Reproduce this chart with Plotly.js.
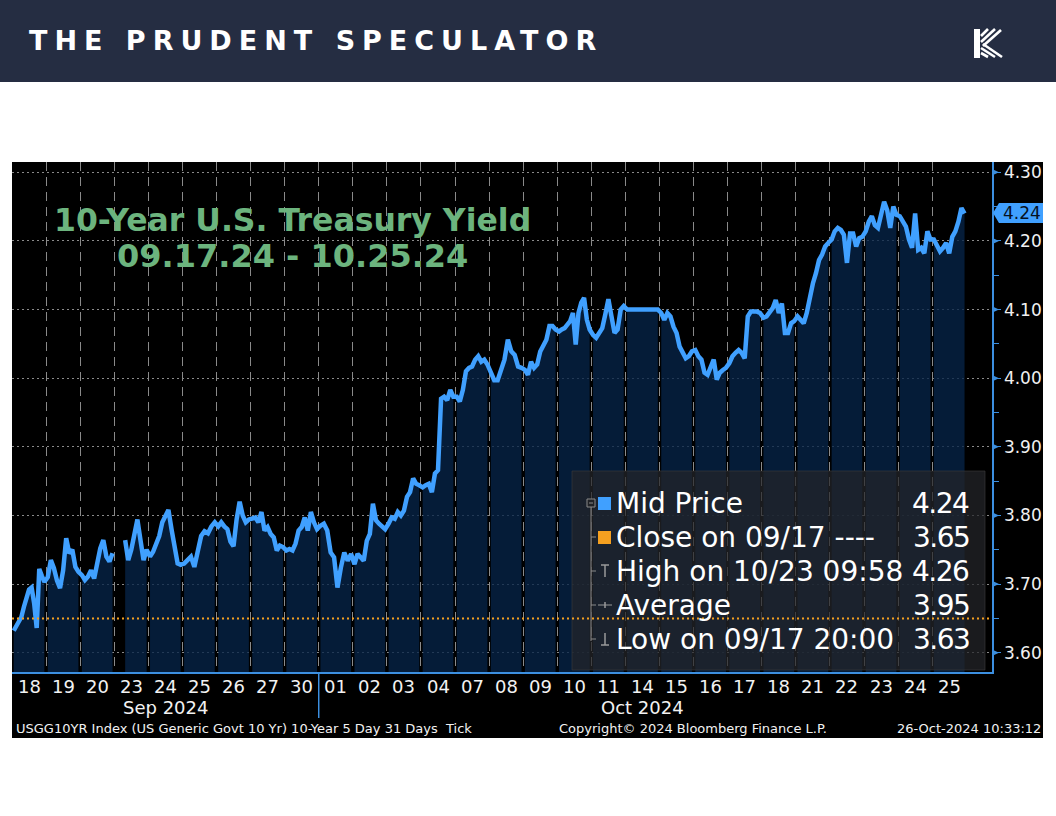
<!DOCTYPE html>
<html><head><meta charset="utf-8">
<script src="https://cdn.plot.ly/plotly-3.0.1.min.js"></script>
<style>html,body{margin:0;padding:0;background:#fff}#chart{width:1056px;height:816px}</style>
</head><body><div id="chart"></div>
<script>
// ---------- DATA ----------
const dayLabels = ['18','19','20','23','24','25','26','27','30','01','02','03','04','07','08','09','10','11','14','15','16','17','18','21','22','23','24','25'];
const monthLabels = ['Sep 2024', 'Oct 2024'];
const monthDayCounts = [9, 19];

const sep18 = [3.632, 3.638, 3.645, 3.652, 3.667, 3.683, 3.692, 3.695, 3.672, 3.636, 3.722, 3.712, 3.703];
const sep19 = [3.710, 3.735, 3.723, 3.705, 3.694, 3.720, 3.767, 3.745, 3.750, 3.725, 3.718];
const sep20 = [3.713, 3.706, 3.711, 3.720, 3.708, 3.730, 3.752, 3.764, 3.740, 3.733, 3.745];
const sep23 = [null, null, null, 3.764, 3.735, 3.750, 3.774, 3.794, 3.764, 3.735, 3.750];
const sep24 = [3.740, 3.747, 3.760, 3.770, 3.790, 3.800, 3.808, 3.780, 3.752, 3.730, 3.728];
const sep25 = [3.730, 3.735, 3.740, 3.725, 3.750, 3.770, 3.777, 3.774, 3.784, 3.790];
const sep26 = [3.784, 3.790, 3.784, 3.780, 3.762, 3.755, 3.794, 3.820, 3.800, 3.790, 3.794];
const sep27 = [3.795, 3.797, 3.790, 3.805, 3.778, 3.783, 3.773, 3.768, 3.749, 3.756, 3.754];
const sep30 = [3.749, 3.751, 3.749, 3.759, 3.778, 3.783, 3.797, 3.778, 3.805, 3.790, 3.780];
const oct01 = [3.785, 3.788, 3.778, 3.746, 3.739, 3.695, 3.724, 3.746, 3.734, 3.744];
const oct02 = [3.729, 3.744, 3.739, 3.734, 3.763, 3.773, 3.817, 3.793, 3.788, 3.783, 3.780];
const oct03 = [3.788, 3.797, 3.795, 3.805, 3.800, 3.807, 3.827, 3.834, 3.854, 3.846, 3.844];
const oct04 = [3.841, 3.844, 3.846, 3.834, 3.861, 3.866, 3.970, 3.973, 3.968, 3.983, 3.973];
const oct07 = [3.973, 3.966, 3.983, 4.010, 4.015, 4.017, 4.027, 4.032, 4.024, 4.027, 4.020];
const oct08 = [4.007, 3.997, 3.997, 4.012, 4.027, 4.056, 4.039, 4.034, 4.017, 4.015];
const oct09 = [4.012, 4.005, 4.024, 4.015, 4.020, 4.039, 4.049, 4.056, 4.076, 4.076, 4.071];
const oct10 = [4.068, 4.071, 4.073, 4.078, 4.083, 4.095, 4.049, 4.095, 4.110, 4.117, 4.085, 4.071];
const oct11 = [4.063, 4.059, 4.066, 4.073, 4.093, 4.115, 4.090, 4.066, 4.071, 4.100, 4.105];
const oct14 = [4.100, 4.100, 4.100];
const oct15 = [4.095, 4.085, 4.095, 4.090, 4.075, 4.066, 4.046, 4.039, 4.029, 4.032, 4.039];
const oct16 = [4.041, 4.032, 4.027, 4.008, 4.005, 4.017, 4.027, 3.998, 4.008, 4.012, 4.015];
const oct17 = [4.022, 4.032, 4.037, 4.041, 4.037, 4.029, 4.090, 4.097, 4.097, 4.097, 4.095];
const oct18 = [4.088, 4.090, 4.095, 4.102, 4.114, 4.095, 4.109, 4.066, 4.066, 4.080, 4.083];
const oct21 = [4.090, 4.085, 4.080, 4.095, 4.119, 4.138, 4.153, 4.172, 4.180, 4.192, 4.197];
const oct22 = [4.202, 4.214, 4.219, 4.216, 4.209, 4.168, 4.211, 4.211, 4.192, 4.204, 4.206];
const oct23 = [4.214, 4.228, 4.236, 4.223, 4.219, 4.238, 4.257, 4.245, 4.219, 4.250, 4.238];
const oct24 = [4.236, 4.228, 4.221, 4.202, 4.190, 4.240, 4.187, 4.190, 4.182, 4.214, 4.202];
const oct25 = [4.202, 4.194, 4.185, 4.190, 4.197, 4.182, 4.206, 4.214, 4.228, 4.248, 4.240];

const dayValues = [sep18, sep19, sep20, sep23, sep24, sep25, sep26, sep27, sep30,
  oct01, oct02, oct03, oct04, oct07, oct08, oct09, oct10, oct11, oct14, oct15,
  oct16, oct17, oct18, oct21, oct22, oct23, oct24, oct25];

const yTickVals = [3.60, 3.70, 3.80, 3.90, 4.00, 4.10, 4.20, 4.30];
const closeSep17 = 3.65;
const lastPrice = '4.24';
const lastPriceValue = 4.24;
const legendNames = ['Mid Price', 'Close on 09/17 ----', 'High on 10/23 09:58', 'Average', 'Low on 09/17 20:00'];
const legendValues = ['4.24', '3.65', '4.26', '3.95', '3.63'];
const titleLine1 = '10-Year U.S. Treasury Yield';
const titleLine2 = '09.17.24 - 10.25.24';
const headerText = 'THE PRUDENT SPECULATOR';
const footerLeft = 'USGG10YR Index (US Generic Govt 10 Yr) 10-Year 5 Day 31 Days  Tick';
const footerMid = 'Copyright\u00A9 2024 Bloomberg Finance L.P.';
const footerRight = '26-Oct-2024 10:33:12';

// ---------- GEOMETRY ----------
const L = 12, R = 992, T = 162, B = 672;
const px = X => (X - L) / (R - L);
const py = Y => (B - Y) / (B - T);
const dayW = 34.08;
const xMax = (R - L) / dayW;
const yMin = 3.60 - (B - 652.7) / 686.3;
const yMax = 4.30 + (172.3 - T) / 686.3;

const FONT = 'DejaVu Sans';
const BLUE = '#40a0ff';
const AXBLUE = '#3c8fe0';

// ---------- TRACES ----------
const traces = [];
const lx = [], ly = [];
dayValues.forEach((vals, i) => {
  const n = vals.length;
  const dx = [];
  vals.forEach((v, j) => {
    const x = i + 0.05 + 0.9 * (n > 1 ? j / (n - 1) : 0.5);
    dx.push(x);
    lx.push(x); ly.push(v);
  });
  traces.push({
    type: 'scatter', x: dx, y: vals, mode: 'none', fill: 'tozeroy',
    fillcolor: 'rgba(6,36,72,0.78)', connectgaps: false, hoverinfo: 'skip', showlegend: false
  });
});
traces.push({
  type: 'scatter', x: lx, y: ly, mode: 'lines', connectgaps: false,
  line: {color: BLUE, width: 4.5}, hoverinfo: 'skip', showlegend: false
});

// ---------- SHAPES ----------
const shapes = [];
shapes.push({type: 'rect', xref: 'paper', yref: 'paper', layer: 'below',
  x0: px(0), x1: px(1056), y0: py(0), y1: py(82), fillcolor: '#252d42', line: {width: 0}});
shapes.push({type: 'rect', xref: 'paper', yref: 'paper', layer: 'below',
  x0: px(12), x1: px(1043), y0: py(162), y1: py(738), fillcolor: '#000000', line: {width: 0}});
// logo
const logoStrokes = [
  [981, 36, 988, 29], [981, 42, 995, 29], [983, 46, 1001, 30],
  [983, 44, 1002, 57], [981, 48, 995, 57], [981, 53, 988, 57]
];
shapes.push({type: 'rect', xref: 'paper', yref: 'paper', x0: px(974), x1: px(980), y0: py(29), y1: py(58),
  fillcolor: '#ffffff', line: {width: 0}});
logoStrokes.forEach(s => shapes.push({type: 'line', xref: 'paper', yref: 'paper',
  x0: px(s[0]), y0: py(s[1]), x1: px(s[2]), y1: py(s[3]), line: {color: '#ffffff', width: 2.6}}));

// month separator
let acc = 0;
monthDayCounts.forEach((c, k) => {
  if (k > 0) shapes.push({type: 'line', xref: 'x', yref: 'paper', x0: acc, x1: acc, y0: 0, y1: py(718),
    line: {color: AXBLUE, width: 1.5}});
  acc += c;
});
// tick triangles on right axis
yTickVals.forEach(v => {
  const h = 3.2 / 686.3;
  shapes.push({type: 'path', xref: 'paper', yref: 'y',
    path: `M ${px(992)} ${v + h} L ${px(999)} ${v} L ${px(992)} ${v - h} Z`,
    fillcolor: AXBLUE, line: {width: 0}});
});
// last price callout
shapes.push({type: 'path', xref: 'paper', yref: 'paper',
  path: `M ${px(993)} ${py(213)} L ${px(999)} ${py(203)} L ${px(1043)} ${py(203)} L ${px(1043)} ${py(223)} L ${px(999)} ${py(223)} Z`,
  fillcolor: BLUE, line: {width: 0}});
// legend box
shapes.push({type: 'rect', xref: 'paper', yref: 'paper', layer: 'above',
  x0: px(572), x1: px(985), y0: py(471), y1: py(670),
  fillcolor: 'rgba(36,38,42,0.72)', line: {color: 'rgba(60,60,60,0.6)', width: 1}});
// close line
shapes.push({type: 'line', xref: 'paper', yref: 'y', layer: 'above', x0: 0, x1: 1, y0: closeSep17, y1: closeSep17,
  line: {color: '#f5a020', width: 2, dash: '2px,3px'}});
// legend tree
const rowY = [503, 537, 571, 605, 639];
shapes.push({type: 'line', xref: 'paper', yref: 'paper', x0: px(591), x1: px(591), y0: py(507), y1: py(641),
  line: {color: '#8a8a8a', width: 1}});
rowY.slice(1).forEach(y => shapes.push({type: 'line', xref: 'paper', yref: 'paper',
  x0: px(591), x1: px(596), y0: py(y), y1: py(y), line: {color: '#8a8a8a', width: 1}}));
shapes.push({type: 'rect', xref: 'paper', yref: 'paper', x0: px(587), x1: px(595), y0: py(499), y1: py(507),
  fillcolor: '#202226', line: {color: '#8a8a8a', width: 1}});
shapes.push({type: 'line', xref: 'paper', yref: 'paper', x0: px(589), x1: px(593), y0: py(503), y1: py(503),
  line: {color: '#8a8a8a', width: 1}});
shapes.push({type: 'rect', xref: 'paper', yref: 'paper', x0: px(598), x1: px(611), y0: py(497), y1: py(510),
  fillcolor: BLUE, line: {width: 0}});
shapes.push({type: 'rect', xref: 'paper', yref: 'paper', x0: px(598), x1: px(611), y0: py(531), y1: py(544),
  fillcolor: '#f5a020', line: {width: 0}});
shapes.push({type: 'line', xref: 'paper', yref: 'paper', x0: px(601), x1: px(609), y0: py(565), y1: py(565), line: {color: '#9a9a9a', width: 1.5}});
shapes.push({type: 'line', xref: 'paper', yref: 'paper', x0: px(605), x1: px(605), y0: py(565), y1: py(577), line: {color: '#9a9a9a', width: 1.5}});
shapes.push({type: 'line', xref: 'paper', yref: 'paper', x0: px(601), x1: px(609), y0: py(645), y1: py(645), line: {color: '#9a9a9a', width: 1.5}});
shapes.push({type: 'line', xref: 'paper', yref: 'paper', x0: px(605), x1: px(605), y0: py(633), y1: py(645), line: {color: '#9a9a9a', width: 1.5}});
shapes.push({type: 'line', xref: 'paper', yref: 'paper', x0: px(598), x1: px(612), y0: py(605), y1: py(605), line: {color: '#9a9a9a', width: 1}});
shapes.push({type: 'line', xref: 'paper', yref: 'paper', x0: px(605), x1: px(605), y0: py(602), y1: py(608), line: {color: '#9a9a9a', width: 1.5}});

// ---------- ANNOTATIONS ----------
const ann = [];
const txt = (text, X, Y, size, color, xanchor, weight) => ({
  text, xref: 'paper', yref: 'paper', x: px(X), y: py(Y), xanchor: xanchor || 'left', yanchor: 'middle',
  showarrow: false, font: {family: FONT, size, color, weight: weight || 400}
});

ann.push(txt(`<span style="letter-spacing:7px">${headerText}</span>`, 27, 41, 27, '#ffffff', 'left', 700));
ann.push(txt(titleLine1, 292, 220, 31.5, '#6cb47e', 'center', 700));
ann.push(txt(titleLine2, 292, 256, 32, '#6cb47e', 'center', 700));

dayLabels.forEach((d, i) => ann.push({text: d, xref: 'x', yref: 'paper', x: i + 0.5, y: py(686),
  xanchor: 'center', yanchor: 'middle', showarrow: false, font: {family: FONT, size: 18, color: '#f2f2f2'}}));
acc = 0;
monthLabels.forEach((m, k) => {
  ann.push({text: m, xref: 'x', yref: 'paper', x: acc + monthDayCounts[k] / 2, y: py(707),
    xanchor: 'center', yanchor: 'middle', showarrow: false, font: {family: FONT, size: 18, color: '#f2f2f2'}});
  acc += monthDayCounts[k];
});
ann.push(txt(footerLeft, 14, 728, 13, '#f2f2f2', 'left'));
ann.push(txt(footerMid, 557, 728, 13, '#f2f2f2', 'left'));
ann.push(txt(footerRight, 1043, 728, 13, '#f2f2f2', 'right'));

legendNames.forEach((n, k) => {
  ann.push(txt(n, 614, rowY[k], 28, '#ffffff', 'left'));
  ann.push(txt(`<span style="letter-spacing:-1.5px">${legendValues[k]}</span>`, 971, rowY[k], 28, '#ffffff', 'right'));
});
ann.push({text: lastPrice, xref: 'paper', yref: 'y', x: px(1001), y: lastPriceValue, xanchor: 'left', yanchor: 'middle',
  showarrow: false, font: {family: FONT, size: 17, color: '#06121f'}});

// ---------- LAYOUT ----------
const layout = {
  width: 1056, height: 816, autosize: false,
  margin: {l: L, r: 1056 - R, t: T, b: 816 - B, pad: 0},
  paper_bgcolor: '#ffffff', plot_bgcolor: '#000000',
  showlegend: false,
  xaxis: {
    range: [0, xMax], tickmode: 'array', tickvals: dayLabels.slice(1).map((d, i) => i + 1),
    showticklabels: false, ticks: '', showgrid: true, gridcolor: '#8a8a8a', gridwidth: 1,
    griddash: '9px,6px', zeroline: false, showline: true, linecolor: AXBLUE, linewidth: 1.5,
    fixedrange: true
  },
  yaxis: {
    side: 'right', range: [yMin, yMax], tickmode: 'linear', tick0: 3.6, dtick: 0.1, tickformat: '.2f',
    showgrid: true, gridcolor: '#8a8a8a', gridwidth: 1, griddash: '2px,3px', zeroline: false,
    showline: true, linecolor: AXBLUE, linewidth: 1.5,
    ticks: 'outside', ticklen: 7, tickcolor: AXBLUE, tickwidth: 1,
    tickfont: {family: FONT, size: 17, color: '#f0f0f0'},
    minor: {dtick: 0.05, tick0: 3.6, ticks: 'outside', ticklen: 5, tickcolor: AXBLUE, showgrid: false},
    fixedrange: true
  },
  shapes, annotations: ann
};

Plotly.newPlot('chart', traces, layout, {displayModeBar: false, staticPlot: true});
</script>
</body></html>
